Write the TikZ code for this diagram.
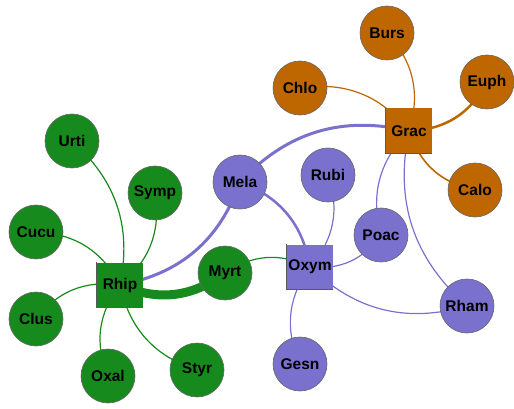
\documentclass[tikz,border=0pt]{standalone}
\usepackage{fontspec}
\setmainfont{Liberation Sans}
\usetikzlibrary{backgrounds}

\definecolor{grn}{HTML}{178A1E}
\definecolor{prp}{HTML}{7A70CE}
\definecolor{org}{HTML}{BE6600}

\tikzset{
  leaf/.style={circle, minimum size=54pt, inner sep=0pt, draw=black!60,
    line width=0.6pt, font=\fontsize{15.5}{18}\selectfont\bfseries},
  hub/.style={rectangle, minimum width=46pt, minimum height=45pt, inner sep=0pt,
    font=\fontsize{15.5}{18}\selectfont\bfseries},
  hubedge/.style={draw=black!65, line width=0.8pt},
  link/.style={line width=1.2pt, bend right=30},
}

\begin{document}
\begin{tikzpicture}[x=1pt, y=-1pt]
\useasboundingbox (0,0) rectangle (514,409);

% hubs
\node[hub, fill=grn] (rhip) at (120,285) {Rhip};
\node[hub, fill=org] (grac) at (409,131) {Grac};
\node[hub, fill=prp] (oxym) at (310,267) {Oxym};

% green group
\node[leaf, fill=grn] (urti) at (72,141) {Urti};
\node[leaf, fill=grn] (symp) at (155,193) {Symp};
\node[leaf, fill=grn] (cucu) at (36,232) {Cucu};
\node[leaf, fill=grn] (clus) at (36,319) {Clus};
\node[leaf, fill=grn] (oxal) at (108,376) {Oxal};
\node[leaf, fill=grn] (styr) at (197,370) {Styr};
\node[leaf, fill=grn] (myrt) at (225,273) {Myrt};

% purple group
\node[leaf, fill=prp] (mela) at (240,182) {Mela};
\node[leaf, fill=prp] (rubi) at (328,175) {Rubi};
\node[leaf, fill=prp] (poac) at (381,235) {Poac};
\node[leaf, fill=prp] (rham) at (467,306) {Rham};
\node[leaf, fill=prp] (gesn) at (300,364) {Gesn};

% orange group
\node[leaf, fill=org] (burs) at (387,33) {Burs};
\node[leaf, fill=org] (chlo) at (300,88) {Chlo};
\node[leaf, fill=org] (euph) at (487,82) {Euph};
\node[leaf, fill=org] (calo) at (475,190) {Calo};

% darker left and bottom rims of the hub squares
\foreach \h in {rhip,grac,oxym}
  \draw[hubedge] (\h.north west) -- (\h.south west) -- (\h.south east);

\begin{scope}[on background layer]
  % Rhip links
  \draw[link, grn] (rhip.center) to (urti.center);
  \draw[link, grn] (rhip.center) to (symp.center);
  \draw[link, grn] (rhip.center) to (cucu.center);
  \draw[link, grn] (rhip.center) to (clus.center);
  \draw[link, grn] (rhip.center) to (oxal.center);
  \draw[link, grn] (rhip.center) to (styr.center);
  \draw[link, grn, line width=9pt] (rhip.center) to (myrt.center);
  \draw[link, prp, line width=3pt] (rhip.center) to (mela.center);
  % Grac links
  \draw[link, org] (grac.center) to (burs.center);
  \draw[link, org] (grac.center) to (chlo.center);
  \draw[link, org, line width=2.5pt] (grac.center) to (euph.center);
  \draw[link, org, line width=1.6pt] (grac.center) to (calo.center);
  \draw[link, prp, line width=3pt] (grac.center) to (mela.center);
  \draw[link, prp] (grac.center) to (poac.center);
  \draw[link, prp] (grac.center) to (rham.center);
  % Oxym links
  \draw[link, prp, line width=2.5pt] (oxym.center) to (mela.center);
  \draw[link, prp] (oxym.center) to (rubi.center);
  \draw[link, prp] (oxym.center) to (poac.center);
  \draw[link, prp] (oxym.center) to (rham.center);
  \draw[link, prp] (oxym.center) to (gesn.center);
  \draw[link, grn] (oxym.center) to (myrt.center);
\end{scope}
\end{tikzpicture}
\end{document}
